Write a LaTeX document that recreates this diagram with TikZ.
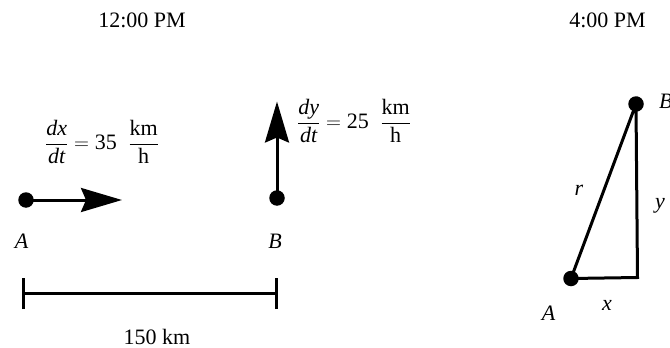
\documentclass[tikz,border=0pt]{standalone}
\usepackage{fontspec}
\setmainfont{Liberation Serif}
\usetikzlibrary{arrows.meta}
\begin{document}
\begin{tikzpicture}[x=1pt,y=-1pt,
  txt/.style={font=\fontsize{22}{26}\selectfont, inner sep=0pt},
  lbl/.style={txt, anchor=base, font=\fontsize{22}{26}\selectfont\itshape},
  dot/.style={circle, fill=black, inner sep=0pt, minimum size=15.5pt},
  ln/.style={line width=3pt},
  bigarrow/.style={ln, -{Stealth[length=41pt,width=24pt,inset=5pt]}}]
\useasboundingbox (0,0) rectangle (670,348);
% titles
\node[txt, anchor=base] (t1) at (142,27.3) {12:00 PM};
\node[txt, anchor=base] (t2) at (607.5,27.3) {4:00 PM};
% left panel
\node[dot] (dA) at (26,200) {};
\node[dot] (dB) at (277,198) {};
\coordinate (tipA) at (122,200);
\coordinate (tipB) at (277,101.5);
\draw[bigarrow] (dA.center) -- (tipA);
\draw[bigarrow] (dB.center) -- (tipB);
\node[lbl] (lA) at (21.7,248) {A};
\node[lbl] (lB) at (275,248) {B};
\node[txt] (vA) at (102,142) {$\displaystyle\frac{\mbox{\itshape dx}}{\mbox{\itshape dt}} = \mbox{35}\;\;\frac{\mbox{km}}{\mbox{h}}$};
\node[txt] (vB) at (354,121) {$\displaystyle\frac{\mbox{\itshape dy}}{\mbox{\itshape dt}} = \mbox{25}\;\;\frac{\mbox{km}}{\mbox{h}}$};
% scale bar
\coordinate (sL) at (23,293);
\coordinate (sR) at (276,293);
\draw[ln] (sL) -- (sR);
\draw[ln] ([yshift=-16pt]sL) -- ([yshift=15pt]sL);
\draw[ln] ([yshift=-16pt]sR) -- ([yshift=15pt]sR);
\node[txt, anchor=base] (dist) at (157,344) {150 km};
% right panel
\node[dot] (rA) at (571,278.5) {};
\node[dot] (rB) at (636,104) {};
\coordinate (rC) at (637.5,277.5);
\draw[ln, line join=miter] (rA.center) -- (rB.center) -- (rC) -- cycle;
\node[lbl] (lr) at (579,195) {r};
\node[lbl] (ly) at (660,208) {y};
\node[lbl] (lx) at (607,310.7) {x};
\node[lbl] (lA2) at (548.5,320) {A};
\node[lbl, anchor=base west] (lB2) at (659,108.3) {B};
\end{tikzpicture}
\end{document}
